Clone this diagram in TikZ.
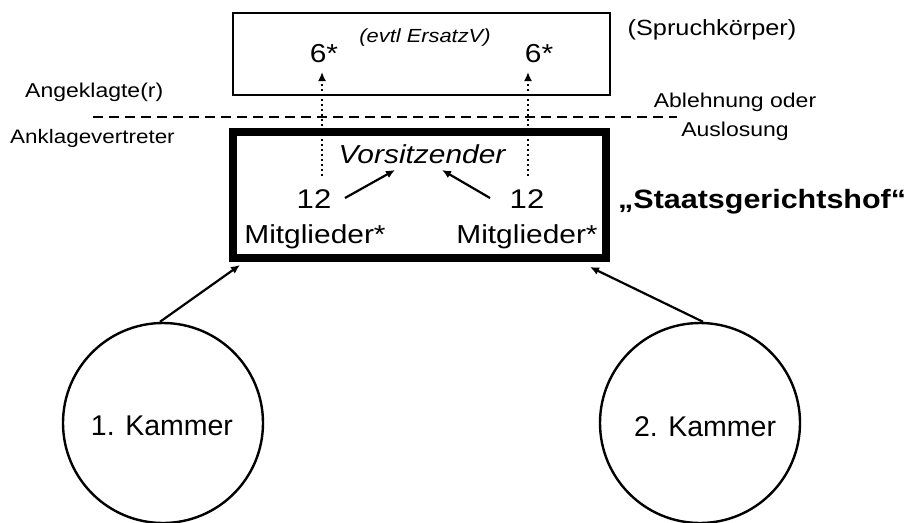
\documentclass[tikz,border=0pt]{standalone}
\usepackage{fontspec}
\setmainfont{Liberation Sans}
\newfontfamily\widesans[FakeStretch=1.15]{Liberation Sans}
\usetikzlibrary{arrows.meta}

\begin{document}
\begin{tikzpicture}[x=1pt,y=-1pt,
  txt/.style={inner sep=0pt, anchor=base, font=\widesans\fontsize{#1}{#1}\selectfont},
  itxt/.style={inner sep=0pt, anchor=base, font=\widesans\itshape\fontsize{#1}{#1}\selectfont},
  plain/.style={inner sep=0pt, anchor=base, font=\fontsize{#1}{#1}\selectfont},
  chamber/.style={circle, draw, line width=2.4pt, minimum size=200pt, inner sep=0pt},
  link/.style={line width=2.2pt, -{Latex[length=9pt,width=8pt]}},
  dotlink/.style={line width=2.6pt, dash pattern=on 2.2pt off 2.8pt, -{Latex[length=9pt,width=8pt]}},
]
\useasboundingbox (0,0) rectangle (909,522);

% panel box (top) and court box
\draw[line width=2.6pt] (233,13) rectangle (610,95);
\draw[line width=8pt] (233,132) rectangle (606,258);

% dividing line
\draw[line width=2pt, dash pattern=on 10pt off 6pt] (93,117) -- (677,117);

% texts in the panel box
\node[itxt=19] (ersatz) at (425,42) {(evtl ErsatzV)};
\node[txt=26] (sixL) at (324,62) {6*};
\node[txt=26] (sixR) at (539,62) {6*};
\node[txt=22] (spruch) at (712,35) {(Spruchkörper)};

% side labels
\node[txt=20, anchor=base west] (angekl) at (25,97) {Angeklagte(r)};
\node[txt=19.5, anchor=base west] (anklage) at (10,143) {Anklagevertreter};
\node[txt=20] (ablehn) at (735,107) {Ablehnung oder};
\node[txt=20] (auslos) at (735,136) {Auslosung};

% texts in the court box
\node[itxt=26] (vors) at (422,163) {Vorsitzender};
\node[txt=27] (twelveL) at (314,208) {12};
\node[txt=27] (twelveR) at (527,208) {12};
\node[txt=26] (mitL) at (315,243) {Mitglieder*};
\node[txt=26] (mitR) at (527,243) {Mitglieder*};
\node[inner sep=0pt, anchor=base west, font=\widesans\bfseries\fontsize{26.5}{26.5}\selectfont] (sgh) at (618,208) {„Staatsgerichtshof“};

% chambers
\node[chamber] (k1) at (163,423) {};
\node[chamber] (k2) at (700,423) {};
\node[plain=28.5] (k1txt) at (162,435) {1. Kammer};
\node[plain=28.5] (k2txt) at (705,436) {2. Kammer};

% connectors
\coordinate (dotLs) at (322,176);
\coordinate (dotLe) at (322,72);
\coordinate (dotRs) at (528,176);
\coordinate (dotRe) at (528,72);
\draw[dotlink] (dotLs) -- (dotLe);
\draw[dotlink] (dotRs) -- (dotRe);

\coordinate (vL) at (395,170);
\coordinate (vR) at (442,170);
\coordinate (tLs) at (345,198);
\coordinate (tRs) at (490,198);
\draw[link] (tLs) -- (vL);
\draw[link] (tRs) -- (vR);

\coordinate (boxL) at (240,265);
\coordinate (boxR) at (590,267);
\draw[link] ([xshift=-3pt]k1.north) -- (boxL);
\draw[link] ([xshift=3pt]k2.north) -- (boxR);
\end{tikzpicture}
\end{document}
